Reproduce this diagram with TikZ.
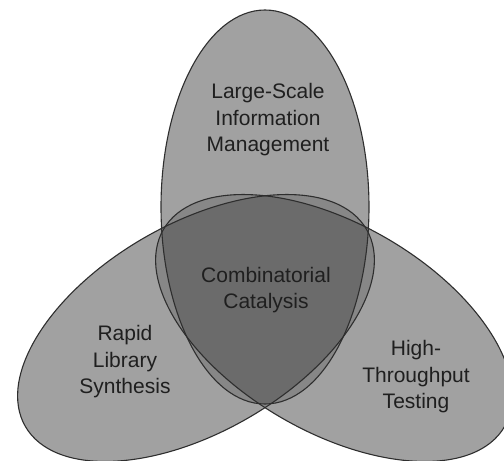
\documentclass[tikz,border=0pt]{standalone}
\usepackage{fontspec}
\setmainfont{Liberation Sans}
\definecolor{cSingle}{gray}{0.63}
\definecolor{cDouble}{gray}{0.53}
\definecolor{cTriple}{gray}{0.42}
\definecolor{cEdge}{gray}{0.18}
\definecolor{cInk}{gray}{0.12}
\tikzset{
  lbl/.style={align=center, text=cInk, font=\fontsize{21pt}{26.5pt}\selectfont, inner sep=0pt},
  rim/.style={draw=cEdge, line width=1.1pt},
  topE/.style={shift={(265pt,-207pt)}},
  leftE/.style={shift={(196pt,-328pt)}, rotate=30},
  rightE/.style={shift={(334pt,-328pt)}, rotate=-30}
}
\newcommand{\ellshape}{(0,0) ellipse [x radius=197pt, y radius=104pt]}
\newcommand{\vellshape}{(0,0) ellipse [x radius=104pt, y radius=197pt]}
\begin{document}
\begin{tikzpicture}
\useasboundingbox (0,0) rectangle (504pt,-461pt);
\fill[white] (0,0) rectangle (504pt,-461pt);
\clip (0,0) rectangle (504pt,-461pt);
% single fills
\fill[cSingle, topE] \vellshape;
\fill[cSingle, leftE] \ellshape;
\fill[cSingle, rightE] \ellshape;
% double overlaps
\begin{scope}
  \clip[leftE] \ellshape;
  \fill[cDouble, rightE] \ellshape;
\end{scope}
\begin{scope}
  \clip[topE] \vellshape;
  \fill[cDouble, leftE] \ellshape;
  \fill[cDouble, rightE] \ellshape;
  \clip[leftE] \ellshape;
  \fill[cTriple, rightE] \ellshape;
\end{scope}
% outlines
\draw[rim, topE] \vellshape;
\draw[rim, leftE] \ellshape;
\draw[rim, rightE] \ellshape;
% labels
\node[lbl] (lsim) at (268pt,-120pt) {Large-Scale\\Information\\Management};
\node[lbl] (cc) at (266pt,-290pt) {Combinatorial\\Catalysis};
\node[lbl] (rls) at (125pt,-362pt) {Rapid\\Library\\Synthesis};
\node[lbl] (htt) at (416pt,-377pt) {High-\\Throughput\\Testing};
\end{tikzpicture}
\end{document}
